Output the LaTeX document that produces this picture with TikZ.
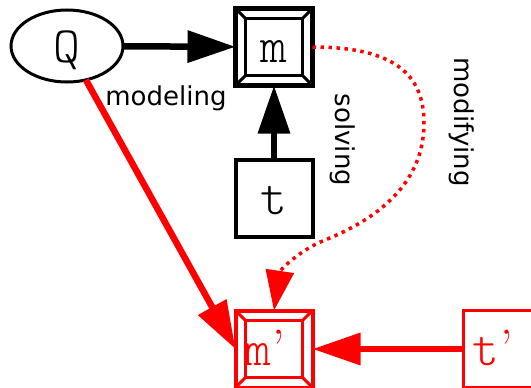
\documentclass[tikz,border=0pt]{standalone}
\usepackage{fontspec}
\newfontfamily\labfont{DejaVu Sans}
\newfontfamily\nodefont{Latin Modern Mono Light}
\newfontfamily\quotefont{Latin Modern Roman}
\usetikzlibrary{arrows.meta,calc,shapes.geometric}
\definecolor{pred}{RGB}{255,0,0}
\newcommand\bevelframe[2]{%
  \draw[#2, line width=3pt, line join=miter]
    ($(#1.north west)+(10,10)$) -- ($(#1.north east)+(-10,10)$) --
    ($(#1.south east)+(-10,-10)$) -- ($(#1.south west)+(10,-10)$) -- cycle;
  \draw[#2, line width=3pt]
    (#1.north west) -- ($(#1.north west)+(10,10)$)
    (#1.north east) -- ($(#1.north east)+(-10,10)$)
    (#1.south east) -- ($(#1.south east)+(-10,-10)$)
    (#1.south west) -- ($(#1.south west)+(10,-10)$);
}
\newcommand\primed[1]{#1\kern1pt{\quotefont ’}\hspace*{18pt}}
\begin{document}
\begin{tikzpicture}[x=1pt,y=-1pt,
  every node/.style={outer sep=0pt, inner sep=0pt},
  nodetext/.style={font=\fontsize{51}{53}\selectfont\nodefont, text height=32pt, text depth=0pt},
  boxnode/.style={nodetext, draw, rectangle, minimum size=77pt, line width=4.5pt},
  ovalnode/.style={nodetext, draw, ellipse, minimum width=112pt, minimum height=72pt, line width=3pt},
  lbl/.style={font=\fontsize{26}{28}\selectfont\labfont},
  bigarrow/.style={line width=6.5pt, -{Triangle[length=48pt,width=31pt]}},
  dotarrow/.style={line width=3.5pt, dash pattern=on 3.5pt off 4.5pt, -{Triangle[length=40pt,width=28pt]}}
]
\path[use as bounding box, clip] (0,0) rectangle (531,388);

\node[ovalnode] (Q) at (67,46) {Q};
\node[boxnode] (m) at (274,47) {m};
\node[boxnode, line width=4pt] (t) at (274,198) {t};
\node[boxnode, pred, text=pred, line width=4pt] (mp) at (274,349) {\primed{m}};
\node[boxnode, pred, text=pred, line width=3.5pt] (tp) at (502,349) {\primed{t}};

\bevelframe{m}{black}
\bevelframe{mp}{pred}

\node[lbl] (lmod) at (166,98) {modeling};
\node[lbl, rotate=-90] (lsol) at (343,140) {solving};
\node[lbl, rotate=-90] (lmdf) at (462,122) {modifying};

\draw[bigarrow] (Q) -- (m);
\draw[bigarrow] (t) -- (m);
\draw[bigarrow, pred] (Q) -- (mp.west);
\draw[bigarrow, pred] (tp) -- (mp);
\draw[dotarrow, pred] (m.east) .. controls (395,47) and (424,75) .. (424,123)
   .. controls (424,185) and (375,220) .. (325,240)
   .. controls (300,250) and (280,270) .. (mp.north);
\end{tikzpicture}
\end{document}
